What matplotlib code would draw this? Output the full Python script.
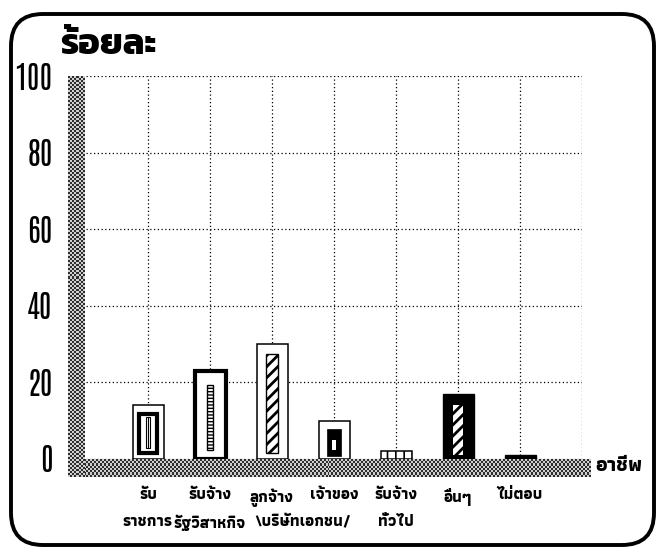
import numpy as np
import matplotlib
matplotlib.use("Agg")
import matplotlib as mpl
import matplotlib.pyplot as plt
from matplotlib.patches import FancyBboxPatch
from matplotlib.colors import ListedColormap

# ร้อยละของผู้ตอบ จำแนกตามอาชีพ
line1 = ["รับ", "รับจ้าง", "ลูกจ้าง", "เจ้าของ", "รับจ้าง", "อื่นๆ", "ไม่ตอบ"]
line2 = ["ราชการ", "รัฐวิสาหกิจ", "\\บริษัทเอกชน/", "ทั่วไป"]
line2_pos = [1, 2, 3.5, 5]
values = [14, 23, 30, 10, 2, 17, 1]
yticks = [0, 20, 40, 60, 80, 100]

thai = ["Athiti", "Kanit", "DejaVu Sans"]
nums = ["Antonio", "DejaVu Sans"]
lab_size = 11.5

W, H = 659, 548
fig = plt.figure(figsize=(W / 100, H / 100), dpi=100)
ax = fig.add_axes([86 / W, 1 - 459 / H, (582 - 86) / W, (459 - 76) / H])
ax.set_xlim(0, 8)
ax.set_ylim(0, 100)
for s in ax.spines.values():
    s.set_visible(False)

x = np.arange(1, len(values) + 1)
v = np.array(values, dtype=float)

# grid: dotted, under the bars
ax.set_axisbelow(True)
ax.set_xticks(np.arange(1, 9), line1 + [""])
ax.set_yticks(yticks, [str(t) for t in yticks])
ax.grid(True, color="black", linestyle=(0, (1, 2)), linewidth=0.9)
ax.tick_params(length=0)
ax.tick_params(axis="y", pad=24)
ax.tick_params(axis="x", pad=21)
for lab in ax.get_yticklabels():
    lab.set_fontfamily(nums)
    lab.set_fontweight("bold")
    lab.set_fontsize(22)

# second row of category names
sec = ax.secondary_xaxis("bottom")
sec.set_xticks(line2_pos, line2)
sec.tick_params(length=0, pad=40)
sec.spines["bottom"].set_visible(False)
for lab in ax.get_xticklabels() + sec.get_xticklabels():
    lab.set_fontfamily(thai)
    lab.set_fontweight("bold")
    lab.set_fontsize(lab_size)

# outer boxes
face = ["white", "white", "white", "white", "white", "black", "black"]
lws = [1.1, 3.0, 1.1, 1.1, 1.1, 1.0, 1.0]
hatches = [None, None, None, None, "||", None, None]
with mpl.rc_context({"hatch.linewidth": 1.2}):
    ax.bar(x, v, width=0.5, color=face, edgecolor="black", linewidth=lws,
           hatch=hatches, zorder=3)

# รับราชการ: black frame, narrow box with a centre line
i = 0
ax.bar(x[i], v[i] - 1.6 - 2.25, bottom=1.6, width=0.29, color="white",
       edgecolor="black", linewidth=3.0, zorder=4)
ax.bar(x[i], v[i] - 3 - 2.9, bottom=2.9, width=0.08, color="white",
       edgecolor="black", linewidth=0.8, zorder=5)
ax.vlines(x[i], 2.9, v[i] - 3, color="black", linewidth=0.8, zorder=6)

# รัฐวิสาหกิจ: ladder strip
i = 1
with mpl.rc_context({"hatch.linewidth": 1.0}):
    ax.bar(x[i], v[i] - 3.7 - 2.35, bottom=2.35, width=0.11, color="white",
           edgecolor="black", linewidth=1.0, hatch="-----", zorder=4)

# ลูกจ้างบริษัทเอกชน: diagonal stripes
i = 2
with mpl.rc_context({"hatch.linewidth": 2.0}):
    ax.bar(x[i], v[i] - 2.6 - 1.6, bottom=1.6, width=0.18, color="white",
           edgecolor="black", linewidth=1.0, hatch="///", zorder=4)

# เจ้าของบริษัทเอกชน: black block with a small slot
i = 3
ax.bar(x[i], v[i] - 2.2 - 0.8, bottom=0.8, width=0.24, color="black",
       edgecolor="black", linewidth=0.5, zorder=4)
ax.bar(x[i], v[i] - 5 - 2.4, bottom=2.4, width=0.05, color="white",
       linewidth=0, zorder=5)

# อื่นๆ: stripes inside the black bar
i = 5
with mpl.rc_context({"hatch.linewidth": 2.0}):
    ax.bar(x[i], v[i] - 3 - 1.0, bottom=1.0, width=0.16, color="white",
           edgecolor="black", linewidth=0.0, hatch="///", zorder=4)

# checkered wall and floor
checker = ListedColormap(["#2e2e2e", "#cfcfcf"])
floor = np.indices((8, 262)).sum(axis=0) % 2
wall = np.indices((200, 8)).sum(axis=0) % 2
ax.imshow(floor, cmap=checker, extent=(-0.29, 8.13, -4.6, 0), aspect="auto",
          interpolation="nearest", zorder=2, clip_on=False)
ax.imshow(wall, cmap=checker, extent=(-0.29, -0.03, -4.6, 100), aspect="auto",
          interpolation="nearest", zorder=2, clip_on=False)
ax.set_xlim(0, 8)
ax.set_ylim(0, 100)

ax.text(8.22, -1.9, "อาชีพ", ha="left", va="center", fontsize=15,
        fontweight="bold", family=thai, clip_on=False)
fig.text(60 / W, 1 - 54 / H, "ร้อยละ", ha="left", va="baseline", fontsize=26,
         fontweight="bold", family=["Kanit", "DejaVu Sans"])

# rounded frame
frame = FancyBboxPatch((11, 3), 643, 531, boxstyle="round,pad=0,rounding_size=32",
                       transform=None, facecolor="none", edgecolor="black",
                       linewidth=2.8)
fig.patches.append(frame)

fig.savefig("out.png", dpi=100)
